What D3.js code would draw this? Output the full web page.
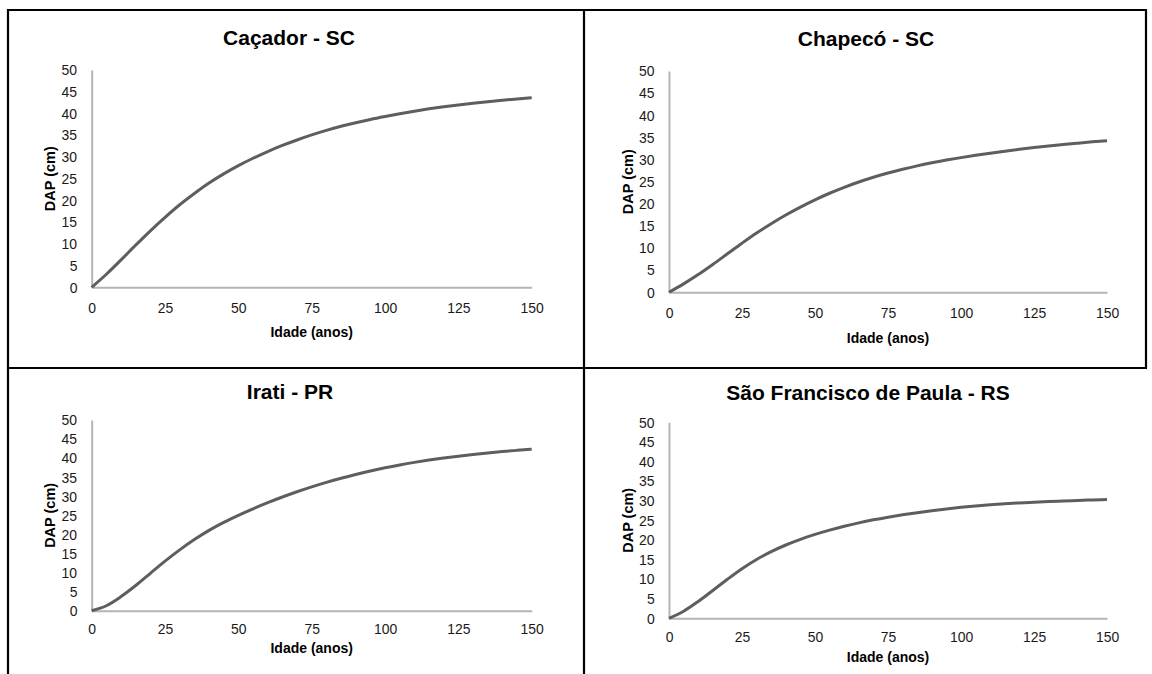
<!DOCTYPE html>
<html>
<head>
<meta charset="utf-8">
<script src="https://cdn.jsdelivr.net/npm/d3@7"></script>
<style>
  html, body { margin: 0; padding: 0; background: #fff; }
  svg { display: block; font-family: "Liberation Sans", Arial, sans-serif; }
  .tick text { transform-box: fill-box; transform-origin: center; transform: scaleX(0.93); }
</style>
</head>
<body>
<svg id="chart" width="1152" height="674"></svg>
<script>
// Diameter (DAP) growth curves by age, one per site
const ages = [0, 5, 10, 15, 20, 25, 30, 35, 40, 45, 50, 55, 60, 65, 70, 75,
              80, 85, 90, 95, 100, 105, 110, 115, 120, 125, 130, 135, 140, 145, 150];

const cacador = [0, 3.00, 6.30, 9.70, 13.00, 16.10, 19.00, 21.60, 24.00, 26.10, 28.00,
                 29.69, 31.24, 32.64, 33.90, 35.06, 36.10, 37.04, 37.88, 38.63, 39.31,
                 39.95, 40.53, 41.06, 41.53, 41.96, 42.35, 42.71, 43.04, 43.33, 43.60];

const chapeco = [0, 1.90, 4.00, 6.30, 8.70, 11.10, 13.40, 15.50, 17.45, 19.25, 20.90,
                 22.38, 23.72, 24.92, 25.99, 26.94, 27.79, 28.56, 29.25, 29.87, 30.43,
                 30.95, 31.43, 31.88, 32.30, 32.69, 33.05, 33.39, 33.70, 33.99, 34.26];

const irati = [0, 1.30, 3.70, 6.60, 9.80, 13.00, 15.95, 18.65, 21.05, 23.15, 25.00,
               26.72, 28.32, 29.81, 31.19, 32.47, 33.65, 34.73, 35.72, 36.63, 37.47,
               38.22, 38.89, 39.49, 40.03, 40.52, 40.96, 41.36, 41.72, 42.04, 42.33];

const saoFrancisco = [0, 1.80, 4.30, 7.10, 9.95, 12.65, 15.00, 17.00, 18.70, 20.15, 21.40,
                      22.50, 23.48, 24.35, 25.12, 25.80, 26.41, 26.95, 27.44, 27.89, 28.30,
                      28.66, 28.96, 29.22, 29.43, 29.61, 29.78, 29.93, 30.07, 30.20, 30.31];

const siteTitles = ["Caçador - SC", "Chapecó - SC", "Irati - PR", "São Francisco de Paula - RS"];
const xTicks = [0, 25, 50, 75, 100, 125, 150];
const yTicks = [0, 5, 10, 15, 20, 25, 30, 35, 40, 45, 50];
const xTitle = "Idade (anos)";
const yTitle = "DAP (cm)";

// Frame of each panel inside its table cell
const layout = [
  { x0: 91.7, x1: 531.7, yTop: 70,    yBottom: 287.3, titleX: 289, titleY: 37.3,  tickPad: 15.5, xTitleOff: 44.4, yTitleX: 50 },
  { x0: 669,  x1: 1107,  yTop: 71,    yBottom: 292.3, titleX: 866, titleY: 38.3,  tickPad: 15,   xTitleOff: 46,   yTitleX: 627.5 },
  { x0: 91.7, x1: 531.7, yTop: 420,   yBottom: 610.7, titleX: 290, titleY: 391.7, tickPad: 12.3, xTitleOff: 37.5, yTitleX: 50 },
  { x0: 669,  x1: 1107,  yTop: 422.3, yBottom: 618.3, titleX: 868, titleY: 392.7, tickPad: 12.9, xTitleOff: 39,   yTitleX: 627.5 }
];
const series = [cacador, chapeco, irati, saoFrancisco];

const svg = d3.select("#chart");

// Table grid lines
const grid = svg.append("g").attr("stroke", "#000").attr("stroke-width", 2.2);
grid.append("line").attr("x1", 7).attr("x2", 1147).attr("y1", 10).attr("y2", 10);
grid.append("line").attr("x1", 7).attr("x2", 1147).attr("y1", 368).attr("y2", 368);
grid.append("line").attr("x1", 8).attr("x2", 8).attr("y1", 9).attr("y2", 674);
grid.append("line").attr("x1", 584).attr("x2", 584).attr("y1", 9).attr("y2", 674);
grid.append("line").attr("x1", 1146).attr("x2", 1146).attr("y1", 9).attr("y2", 368);

layout.forEach((L, i) => {
  const x = d3.scaleLinear().domain([0, 150]).range([L.x0, L.x1]);
  const y = d3.scaleLinear().domain([0, 50]).range([L.yBottom, L.yTop]);
  const g = svg.append("g");

  // y axis
  const ya = g.append("g")
    .attr("transform", `translate(${L.x0},0)`)
    .call(d3.axisLeft(y).tickValues(yTicks).tickSize(0).tickSizeOuter(0).tickPadding(14));
  ya.select(".domain").attr("stroke", "#b4b4b4").attr("stroke-width", 2);
  ya.selectAll("text").attr("font-size", 15).attr("fill", "#1a1a1a")
    .attr("font-family", "Liberation Sans, Arial, sans-serif");

  // x axis
  const xa = g.append("g")
    .attr("transform", `translate(0,${L.yBottom})`)
    .call(d3.axisBottom(x).tickValues(xTicks).tickSize(0).tickSizeOuter(0).tickPadding(L.tickPad));
  xa.select(".domain").attr("stroke", "#b4b4b4").attr("stroke-width", 2);
  xa.selectAll("text").attr("font-size", 15).attr("fill", "#1a1a1a")
    .attr("font-family", "Liberation Sans, Arial, sans-serif");

  // growth curve
  const line = d3.line()
    .x((d, k) => x(ages[k]))
    .y(d => y(d))
    .curve(d3.curveMonotoneX);
  g.append("path")
    .datum(series[i])
    .attr("d", line)
    .attr("fill", "none")
    .attr("stroke", "#5e5e5e")
    .attr("stroke-width", 3)
    .attr("stroke-linecap", "butt");

  // panel title
  g.append("text")
    .attr("x", L.titleX).attr("y", L.titleY)
    .attr("dy", "0.35em")
    .attr("text-anchor", "middle")
    .attr("font-size", 21).attr("font-weight", "bold").attr("fill", "#000")
    .text(siteTitles[i]);

  // axis titles
  g.append("text")
    .attr("x", (L.x0 + L.x1) / 2).attr("y", L.yBottom + L.xTitleOff)
    .attr("dy", "0.35em")
    .attr("text-anchor", "middle")
    .attr("font-size", 14).attr("font-weight", "bold").attr("fill", "#000")
    .text(xTitle);

  g.append("text")
    .attr("transform", `translate(${L.yTitleX},${(L.yTop + L.yBottom) / 2}) rotate(-90)`)
    .attr("dy", "0.35em")
    .attr("text-anchor", "middle")
    .attr("font-size", 14.5).attr("font-weight", "bold").attr("fill", "#000")
    .text(yTitle);
});
</script>
</body>
</html>
